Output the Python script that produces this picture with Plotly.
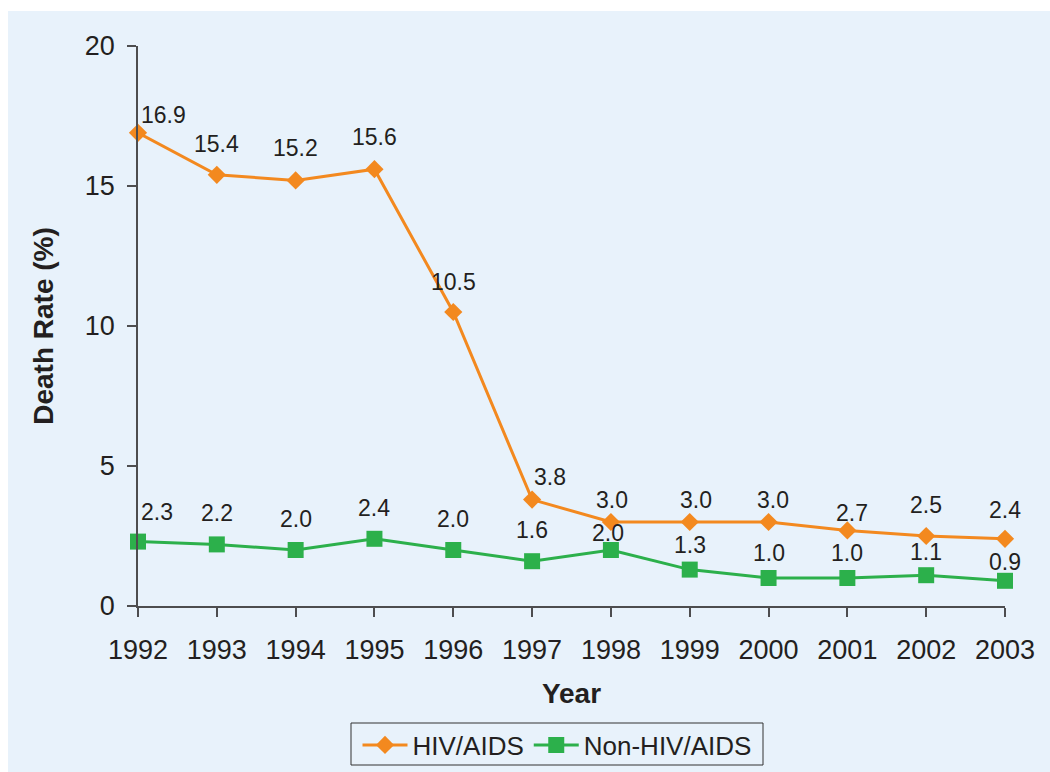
import plotly.graph_objects as go

years = [1992, 1993, 1994, 1995, 1996, 1997, 1998, 1999, 2000, 2001, 2002, 2003]
hiv = [16.9, 15.4, 15.2, 15.6, 10.5, 3.8, 3.0, 3.0, 3.0, 2.7, 2.5, 2.4]
non_hiv = [2.3, 2.2, 2.0, 2.4, 2.0, 1.6, 2.0, 1.3, 1.0, 1.0, 1.1, 0.9]

# label offsets (px) so the labels sit where they do in the original
hiv_dx = [25, 0, 0, 0, 0, 18, 1, 6, 4, 5, 0, 0]
hiv_dy = [18, 31, 32, 32, 30, 23, 22, 22, 22, 17, 31, 29]
non_dx = [19, 0, 0, 0, 0, 0, -3, 0, 0, 0, 0, 0]
non_dy = [30, 31, 31, 31, 31, 31, 17, 25, 25, 25, 23, 19]

orange = "#f3891f"
green = "#2cb04b"
ink = "#231f20"
axis_col = "#4d4d4f"
bg = "#e8f2fb"
font = "Liberation Sans, Arial, sans-serif"

fig = go.Figure()
fig.add_trace(go.Scatter(
    x=years, y=hiv, name="HIV/AIDS", mode="lines+markers",
    line=dict(color=orange, width=3),
    marker=dict(symbol="diamond", size=14, color=orange),
    cliponaxis=False,
))
fig.add_trace(go.Scatter(
    x=years, y=non_hiv, name="Non-HIV/AIDS", mode="lines+markers",
    line=dict(color=green, width=3),
    marker=dict(symbol="square", size=16, color=green),
    cliponaxis=False,
))

annots = []
for vals, dxs, dys in [(hiv, hiv_dx, hiv_dy), (non_hiv, non_dx, non_dy)]:
    for x, v, dx, dy in zip(years, vals, dxs, dys):
        annots.append(dict(
            x=x, y=v, text=f"{v:.1f}", showarrow=False,
            xshift=dx, yshift=dy, font=dict(family=font, size=23, color=ink),
        ))

W, H = 1050, 772
L, T, PW, PH = 138, 46, 867, 560


def px_x(p):
    return (p - L) / PW


def px_y(p):
    return (T + PH - p) / PH


fig.update_layout(
    width=W, height=H,
    margin=dict(l=L, r=W - L - PW, t=T, b=H - T - PH),
    paper_bgcolor="white",
    plot_bgcolor="rgba(0,0,0,0)",
    font=dict(family=font, color=ink, size=27),
    annotations=annots,
    shapes=[
        dict(type="rect", xref="paper", yref="paper", layer="below",
             x0=px_x(8), x1=px_x(1060), y0=px_y(780), y1=px_y(11),
             fillcolor=bg, line=dict(width=0)),
        # legend frame
        dict(type="rect", xref="paper", yref="paper", layer="below",
             x0=px_x(351), x1=px_x(763), y0=px_y(765), y1=px_y(723),
             fillcolor="rgba(0,0,0,0)", line=dict(color="#333333", width=1)),
    ],
    xaxis=dict(
        range=[1992, 2003], tickmode="array", tickvals=years,
        showline=True, linecolor=axis_col, linewidth=1.5,
        ticks="outside", ticklen=9, tickcolor=axis_col, tickwidth=1.5,
        showgrid=False, zeroline=False, automargin=False,
        tickfont=dict(size=27, color=ink), ticklabelstandoff=10,
        title=dict(text="<b>Year</b>", font=dict(size=28, color=ink), standoff=19),
    ),
    yaxis=dict(
        range=[0, 20], tickvals=[0, 5, 10, 15, 20],
        showline=True, linecolor=axis_col, linewidth=1.5,
        ticks="outside", ticklen=9, tickcolor=axis_col, tickwidth=1.5,
        showgrid=False, zeroline=False, automargin=False,
        tickfont=dict(size=27, color=ink), ticklabelstandoff=7,
        title=dict(text="<b>Death Rate (%)</b>", font=dict(size=28, color=ink), standoff=23),
    ),
    legend=dict(
        orientation="h", xref="container", yref="container",
        x=557 / W, xanchor="center", y=(H - 745) / H, yanchor="middle",
        bgcolor="rgba(0,0,0,0)", borderwidth=0,
        font=dict(size=26, color=ink), itemwidth=45,
    ),
)

fig.write_html("out.html", config={"displayModeBar": False},
               post_script="document.body.style.margin='0';")
